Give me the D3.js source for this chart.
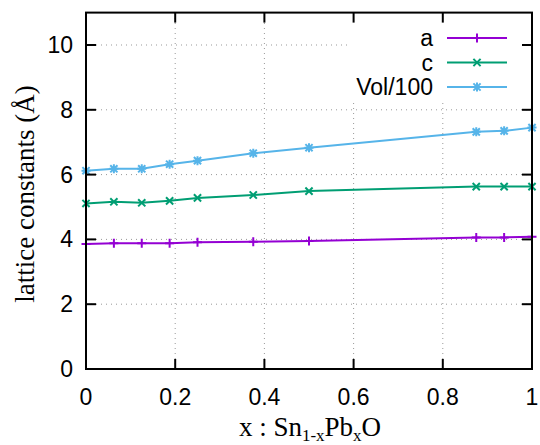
<!DOCTYPE html>
<html>
<head>
<meta charset="utf-8">
<script src="https://cdn.jsdelivr.net/npm/d3@7"></script>
<style>
body { margin: 0; background: #fff; }
text { fill: #000; }
</style>
</head>
<body>
<div id="chart-area"></div>
<script>
// data
const xVals = [0, 0.0625, 0.125, 0.1875, 0.25, 0.375, 0.5, 0.875, 0.9375, 1]
const aVals = [3.86, 3.88, 3.88, 3.88, 3.91, 3.93, 3.95, 4.06, 4.06, 4.08]
const cVals = [5.11, 5.16, 5.13, 5.19, 5.28, 5.37, 5.49, 5.63, 5.63, 5.63]
const volVals = [6.12, 6.18, 6.18, 6.32, 6.43, 6.66, 6.83, 7.32, 7.35, 7.45]
const seriesNames = ["a", "c", "Vol/100"]
const xTicks = [0, 0.2, 0.4, 0.6, 0.8, 1]
const yTicks = [0, 2, 4, 6, 8, 10]

const W = 540, H = 445
const LEFT = 86, RIGHT = 532, TOP = 12.6, BOTTOM = 369

const svg = d3.select("#chart-area").append("svg")
	.attr("width", W)
	.attr("height", H)

const x = d3.scaleLinear().domain([0, 1]).range([LEFT, RIGHT])
const y = d3.scaleLinear().domain([0, 11]).range([BOTTOM, TOP])

const series = [
	{ name: seriesNames[0], vals: aVals, color: "#9400d3", mark: "plus" },
	{ name: seriesNames[1], vals: cVals, color: "#009e73", mark: "cross" },
	{ name: seriesNames[2], vals: volVals, color: "#56b4e9", mark: "star" }
]

// grid
const grid = svg.append("g")
	.attr("stroke", "#999")
	.attr("stroke-width", 1)
	.attr("stroke-dasharray", "1,4")
grid.selectAll(".gx").data(xTicks.slice(1, -1)).join("line")
	.attr("x1", d => x(d)).attr("x2", d => x(d))
	.attr("y1", BOTTOM).attr("y2", TOP)
grid.selectAll(".gy").data(yTicks.slice(1)).join("line")
	.attr("y1", d => y(d)).attr("y2", d => y(d))
	.attr("x1", LEFT).attr("x2", RIGHT)

// key area blanks the grid
svg.append("rect")
	.attr("x", 348).attr("y", TOP)
	.attr("width", RIGHT - 348).attr("height", 100 - TOP)
	.attr("fill", "#fff")

function markPath(type, s) {
	const p = d3.path()
	if (type === "plus" || type === "star") {
		p.moveTo(-s, 0); p.lineTo(s, 0)
		p.moveTo(0, -s); p.lineTo(0, s)
	}
	if (type === "cross" || type === "star") {
		const k = s * 0.8
		p.moveTo(-k, -k); p.lineTo(k, k)
		p.moveTo(-k, k); p.lineTo(k, -k)
	}
	return p.toString()
}

const line = d3.line()
	.x(d => x(d[0]))
	.y(d => y(d[1]))

const plot = svg.append("g")
series.forEach(s => {
	const pts = xVals.map((v, i) => [v, s.vals[i]])
	plot.append("path")
		.attr("d", line(pts))
		.attr("fill", "none")
		.attr("stroke", s.color)
		.attr("stroke-width", 2)
	plot.selectAll(null).data(pts).join("path")
		.attr("transform", d => `translate(${x(d[0])},${y(d[1])})`)
		.attr("d", markPath(s.mark, 4.5))
		.attr("stroke", s.color)
		.attr("stroke-width", 2)
		.attr("fill", "none")
})

// border
svg.append("rect")
	.attr("x", LEFT).attr("y", TOP)
	.attr("width", RIGHT - LEFT).attr("height", BOTTOM - TOP)
	.attr("fill", "none")
	.attr("stroke", "#000")
	.attr("stroke-width", 2)

// ticks (inward, mirrored)
const ticks = svg.append("g").attr("stroke", "#000").attr("stroke-width", 2)
ticks.selectAll(".tb").data(xTicks).join("line")
	.attr("x1", d => x(d)).attr("x2", d => x(d))
	.attr("y1", BOTTOM).attr("y2", BOTTOM - 10)
ticks.selectAll(".tt").data(xTicks).join("line")
	.attr("x1", d => x(d)).attr("x2", d => x(d))
	.attr("y1", TOP).attr("y2", TOP + 10)
ticks.selectAll(".tl").data(yTicks).join("line")
	.attr("y1", d => y(d)).attr("y2", d => y(d))
	.attr("x1", LEFT).attr("x2", LEFT + 10)
ticks.selectAll(".tr").data(yTicks).join("line")
	.attr("y1", d => y(d)).attr("y2", d => y(d))
	.attr("x1", RIGHT).attr("x2", RIGHT - 10)

// tick labels
const labelFont = "'Liberation Sans', Arial, sans-serif"
svg.selectAll(".xl").data(xTicks).join("text")
	.attr("x", d => x(d))
	.attr("y", 405)
	.attr("text-anchor", "middle")
	.attr("font-family", labelFont)
	.attr("font-size", 23)
	.text(d => d)
svg.selectAll(".yl").data(yTicks).join("text")
	.attr("x", 73)
	.attr("y", d => y(d) + 8)
	.attr("text-anchor", "end")
	.attr("font-family", labelFont)
	.attr("font-size", 23)
	.text(d => d)

// axis titles
const serif = "'Liberation Serif', 'Times New Roman', serif"
svg.append("text")
	.attr("transform", "translate(34,194) rotate(-90)")
	.attr("text-anchor", "middle")
	.attr("font-family", serif)
	.attr("font-size", 27)
	.text("lattice constants (Å)")

const xLabel = svg.append("text")
	.attr("x", 310)
	.attr("y", 436)
	.attr("text-anchor", "middle")
	.attr("font-family", serif)
	.attr("font-size", 27)
xLabel.append("tspan").text("x : Sn")
xLabel.append("tspan").attr("dy", 5).attr("font-size", 17).text("1-x")
xLabel.append("tspan").attr("dy", -5).text("Pb")
xLabel.append("tspan").attr("dy", 5).attr("font-size", 17).text("x")
xLabel.append("tspan").attr("dy", -5).text("O")

// key
const key = svg.append("g")
series.forEach((s, i) => {
	const ky = 38 + i * 24.5
	key.append("text")
		.attr("x", 433)
		.attr("y", ky + 8)
		.attr("text-anchor", "end")
		.attr("font-family", labelFont)
		.attr("font-size", 23)
		.text(s.name)
	key.append("line")
		.attr("x1", 447).attr("x2", 507)
		.attr("y1", ky).attr("y2", ky)
		.attr("stroke", s.color)
		.attr("stroke-width", 2)
	key.append("path")
		.attr("transform", `translate(477,${ky})`)
		.attr("d", markPath(s.mark, 4.5))
		.attr("stroke", s.color)
		.attr("stroke-width", 2)
		.attr("fill", "none")
})
</script>
</body>
</html>
